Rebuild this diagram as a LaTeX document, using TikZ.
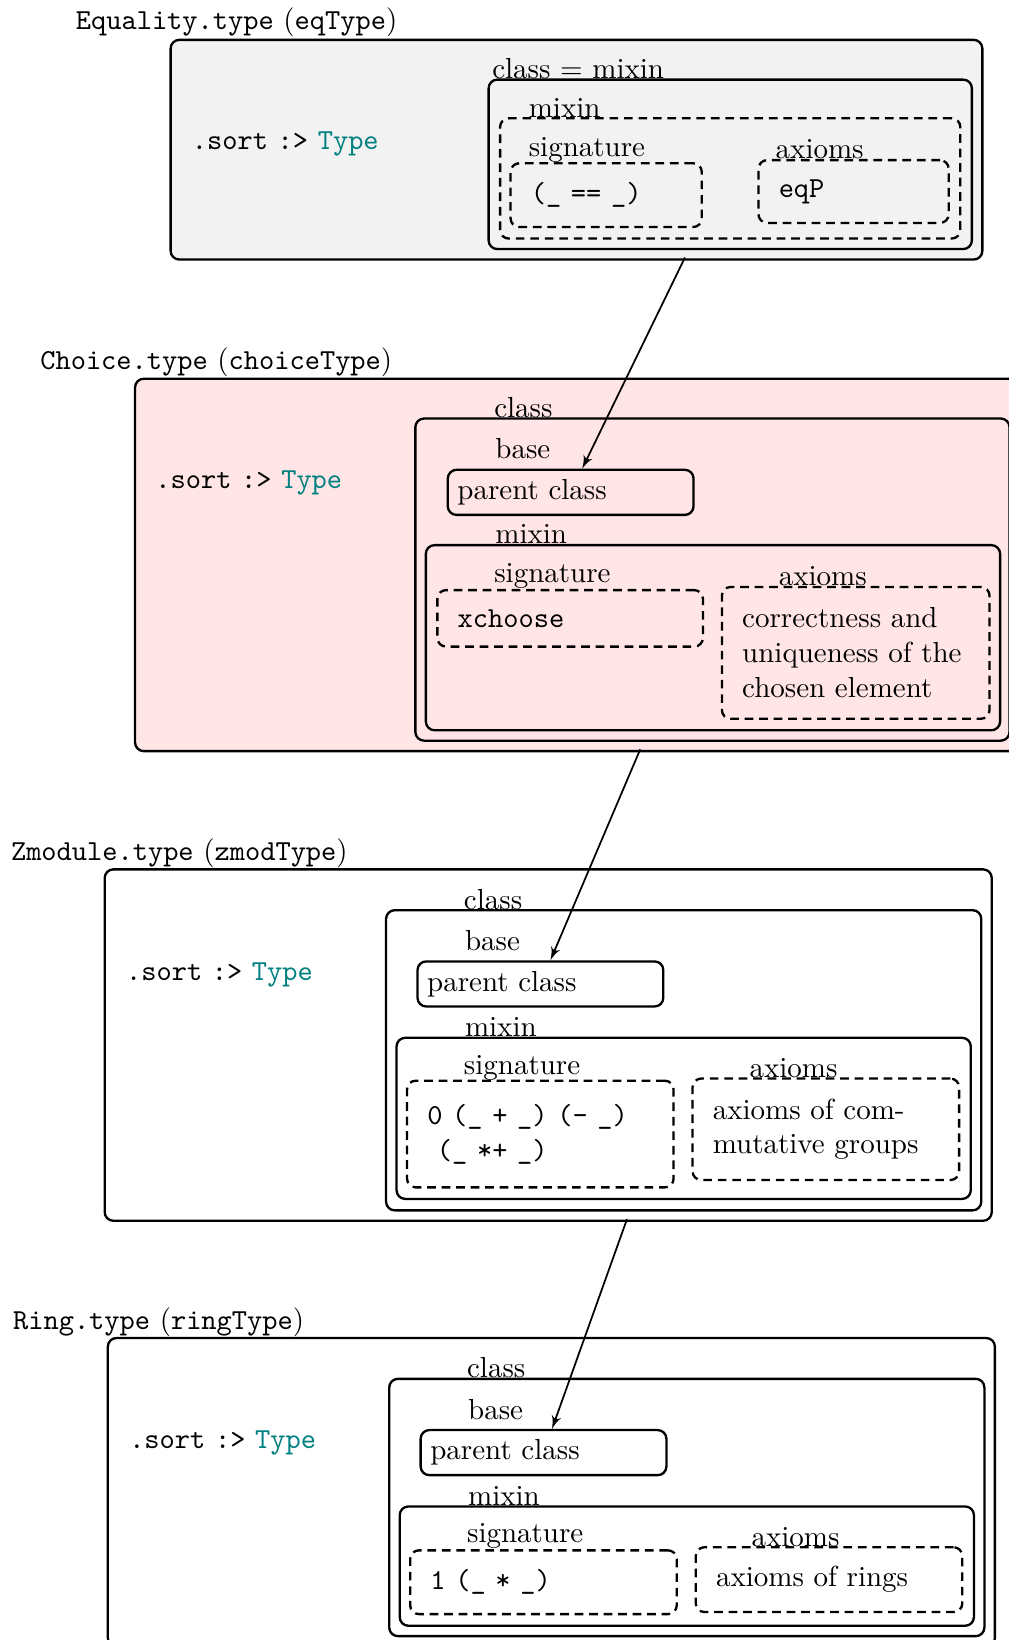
\documentclass[tikz,border=0pt]{standalone}
\usepackage{tikz}
\usetikzlibrary{shapes,arrows}
\tikzstyle{line} = [draw, semithick, -latex']
\tikzstyle{box} = [draw, thick, rounded corners=3pt, anchor=north west]
\tikzstyle{dbox} = [draw, thick, densely dashed, rounded corners=3pt, anchor=north west, inner xsep=7pt, align=left]
\tikzstyle{lbl} = [anchor=base west, inner sep=0pt]
\usepackage{color}

\begin{document}
\begin{tikzpicture}

	\useasboundingbox (0,0) rectangle (12.22,-19.88);

	% Equality.type
	\node[lbl] (eqtitle) at (0.913,-0.355) {\texttt{Equality.type} (\texttt{eqType})};
	\node[box, fill=gray!10, minimum width=9.840cm, minimum height=2.663cm] (eqtype) at (2.054,-0.469) {};
	\node[lbl] (eqsort) at (2.320,-1.813) {\texttt{.sort} \texttt{:>} \texttt{\textcolor{teal}{Type}}};
	\node[lbl] (eqclasslbl) at (5.960,-0.951) {class = mixin};
	\node[box, minimum width=5.858cm, minimum height=2.054cm] (eqclass) at (5.909,-0.951) {};
	\node[lbl] (eqmixinlbl) at (6.403,-1.420) {mixin};
	\node[dbox, minimum width=5.579cm, minimum height=1.458cm] (eqmixin) at (6.048,-1.420) {};
	\node[lbl] (eqsiglbl) at (6.403,-1.902) {signature};
	\node[dbox, text width=1.826cm, minimum height=0.773cm] (eqsig) at (6.175,-1.965) {\texttt{(\_ == \_)}};
	\node[lbl] (eqaxlbl) at (9.396,-1.927) {axioms};
	\node[dbox, text width=1.814cm, minimum height=0.761cm] (eqax) at (9.180,-1.927) {\texttt{eqP}};

	% Choice.type
	\node[lbl] (choicetitle) at (0.482,-4.476) {\texttt{Choice.type} (\texttt{choiceType})};
	\node[box, fill=red!10, minimum width=10.727cm, minimum height=4.514cm] (choicetype) at (1.623,-4.577) {};
	\node[lbl] (choicesort) at (1.877,-5.922) {\texttt{.sort} \texttt{:>} \texttt{\textcolor{teal}{Type}}};
	\node[lbl] (choiceclasslbl) at (5.985,-5.059) {class};
	\node[box, minimum width=7.202cm, minimum height=3.905cm] (choiceclass) at (5.021,-5.059) {};
	\node[lbl] (choicebaselbl) at (5.998,-5.554) {base};
	\node[box, text width=2.745cm, align=left, minimum height=0.545cm] (choiceparent) at (5.414,-5.681) {parent class};
	\node[lbl] (choicemixinlbl) at (5.998,-6.594) {mixin};
	\node[box, minimum width=6.961cm, minimum height=2.244cm] (choicemixin) at (5.148,-6.594) {};
	\node[lbl] (choicesiglbl) at (5.985,-7.063) {signature};
	\node[dbox, text width=2.727cm, minimum height=0.685cm] (choicesig) at (5.288,-7.139) {\texttt{xchoose}};
	\node[lbl] (choiceaxlbl) at (9.434,-7.101) {axioms};
	\node[dbox, text width=2.752cm, minimum height=1.598cm] (choiceax) at (8.737,-7.101) {correctness and\\ uniqueness of the\\ chosen element};

	% Zmodule.type
	\node[lbl] (zmodtitle) at (0.127,-10.436) {\texttt{Zmodule.type} (\texttt{zmodType})};
	\node[box, minimum width=10.753cm, minimum height=4.260cm] (zmodtype) at (1.255,-10.524) {};
	\node[lbl] (zmodsort) at (1.522,-11.881) {\texttt{.sort} \texttt{:>} \texttt{\textcolor{teal}{Type}}};
	\node[lbl] (zmodclasslbl) at (5.617,-11.019) {class};
	\node[box, minimum width=7.215cm, minimum height=3.639cm] (zmodclass) at (4.666,-11.019) {};
	\node[lbl] (zmodbaselbl) at (5.630,-11.526) {base};
	\node[box, text width=2.745cm, align=left, minimum height=0.545cm] (zmodparent) at (5.047,-11.640) {parent class};
	\node[lbl] (zmodmixinlbl) at (5.630,-12.566) {mixin};
	\node[box, minimum width=6.961cm, minimum height=1.953cm] (zmodmixin) at (4.793,-12.566) {};
	\node[lbl] (zmodsiglbl) at (5.617,-13.022) {signature};
	\node[dbox, text width=2.739cm, minimum height=1.293cm] (zmodsig) at (4.920,-13.086) {\texttt{0 (\_ + \_) (- \_)}\\\texttt{\ (\_ *+ \_)}};
	\node[lbl] (zmodaxlbl) at (9.079,-13.060) {axioms};
	\node[dbox, text width=2.739cm, minimum height=1.230cm] (zmodax) at (8.381,-13.060) {axioms of com-\\mutative groups};

	% Ring.type
	\node[lbl] (ringtitle) at (0.152,-16.116) {\texttt{Ring.type} (\texttt{ringType})};
	\node[box, minimum width=10.753cm, minimum height=3.741cm] (ringtype) at (1.293,-16.205) {};
	\node[lbl] (ringsort) at (1.560,-17.562) {\texttt{.sort} \texttt{:>} \texttt{\textcolor{teal}{Type}}};
	\node[lbl] (ringclasslbl) at (5.655,-16.700) {class};
	\node[box, minimum width=7.215cm, minimum height=3.119cm] (ringclass) at (4.704,-16.700) {};
	\node[lbl] (ringbaselbl) at (5.668,-17.207) {base};
	\node[box, text width=2.745cm, align=left, minimum height=0.545cm] (ringparent) at (5.085,-17.321) {parent class};
	\node[lbl] (ringmixinlbl) at (5.668,-18.247) {mixin};
	\node[box, minimum width=6.961cm, minimum height=1.446cm] (ringmixin) at (4.831,-18.247) {};
	\node[lbl] (ringsiglbl) at (5.655,-18.703) {signature};
	\node[dbox, text width=2.739cm, minimum height=0.773cm] (ringsig) at (4.958,-18.779) {\texttt{1 (\_ * \_)}};
	\node[lbl] (ringaxlbl) at (9.104,-18.741) {axioms};
	\node[dbox, text width=2.739cm, minimum height=0.786cm] (ringax) at (8.420,-18.741) {axioms of rings};

	% arrows
	\draw [line, shorten <=2.8pt] (eqclass) -- (choiceparent);
	\draw [line, shorten <=2.8pt] (choiceclass) -- (zmodparent);
	\draw [line, shorten <=2.8pt] (zmodclass) -- (ringparent);

\end{tikzpicture}
\end{document}
